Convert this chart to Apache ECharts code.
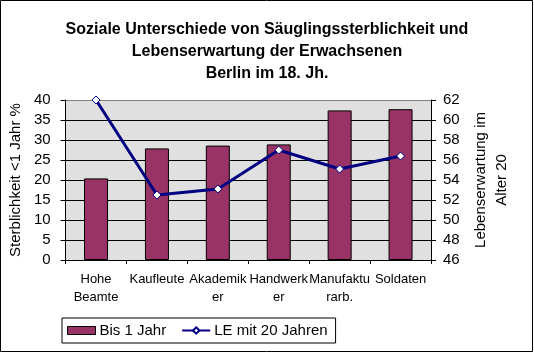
<!DOCTYPE html>
<html>
<head>
<meta charset="utf-8">
<script src="https://cdn.jsdelivr.net/npm/echarts@6/dist/echarts.min.js"></script>
<style>
html,body{margin:0;padding:0;background:#fff;}
#chart{width:534px;height:353px;}
</style>
</head>
<body>
<div id="chart"></div>
<script>
var categories = ["Hohe\nBeamte", "Kaufleute", "Akademik\ner", "Handwerk\ner", "Manufaktu\nrarb.", "Soldaten"];
var mortality = [20.4, 27.9, 28.6, 28.9, 37.4, 37.7];
var lifeExpectancy = [62.0, 52.5, 53.1, 57.0, 55.1, 56.4];
var seriesNames = ["Bis 1 Jahr", "LE mit 20 Jahren"];
var titleText = "Soziale Unterschiede von Säuglingssterblichkeit und\nLebenserwartung der Erwachsenen\nBerlin im 18. Jh.";
var leftAxisName = "Sterblichkeit <1 Jahr %";
var rightAxisName = "Lebenserwartung im\nAlter 20";

var FONT = "Liberation Sans, Arial, sans-serif";
var chart = echarts.init(document.getElementById('chart'), null, {renderer: 'canvas'});
chart.setOption({
  backgroundColor: '#ffffff',
  animation: false,
  textStyle: {fontFamily: FONT, color: '#000'},
  title: {
    text: titleText,
    left: 262, top: 14, textAlign: 'center',
    textStyle: {fontFamily: FONT, fontSize: 16, fontWeight: 'bold', color: '#000', lineHeight: 21.7}
  },
  graphic: [{
    type: 'rect', silent: true, z: 100,
    shape: {x: 0.5, y: 0.5, width: 532, height: 351},
    style: {fill: 'none', stroke: '#000', lineWidth: 1}
  }],
  legend: {
    left: 62, top: 318,
    padding: [5, 8, 5, 5],
    borderColor: '#000', borderWidth: 1,
    itemGap: 15,
    itemWidth: 28, itemHeight: 8,
    textStyle: {fontFamily: FONT, fontSize: 15, color: '#000', padding: [0, 0, 0, -1]},
    data: [
      {name: seriesNames[0], icon: 'rect', itemStyle: {borderColor: '#000', borderWidth: 1}},
      {name: seriesNames[1]}
    ]
  },
  grid: {
    left: 60, right: 103, top: 100, bottom: 93,
    show: true, backgroundColor: '#E0E0E0', borderWidth: 0
  },
  xAxis: {
    type: 'category',
    data: categories,
    axisLine: {lineStyle: {color: '#000', width: 1}},
    axisTick: {show: true, length: 4, lineStyle: {color: '#000'}},
    axisLabel: {interval: 0, margin: 11, fontFamily: FONT, fontSize: 13, color: '#000', lineHeight: 17.5}
  },
  yAxis: [{
    type: 'value', min: 0, max: 40, interval: 5,
    position: 'left',
    name: leftAxisName, nameLocation: 'middle', nameGap: 36, nameRotate: 90,
    nameTextStyle: {fontFamily: FONT, fontSize: 15, color: '#000'},
    axisLine: {show: true, lineStyle: {color: '#000'}},
    axisTick: {show: true, length: 5, lineStyle: {color: '#000'}},
    axisLabel: {margin: 15, fontFamily: FONT, fontSize: 15, color: '#000'},
    splitLine: {show: true, lineStyle: {color: ['#000','#000','#000','#000','#000','#000','#000','#000','#808080'], width: 1}}
  }, {
    type: 'value', min: 46, max: 62, interval: 2,
    position: 'right',
    name: rightAxisName, nameLocation: 'middle', nameGap: 37, nameRotate: 90,
    nameTextStyle: {fontFamily: FONT, fontSize: 15, color: '#000', lineHeight: 21, align: 'center'},
    axisLine: {show: true, lineStyle: {color: '#000'}},
    axisTick: {show: true, length: 5, lineStyle: {color: '#000'}},
    axisLabel: {margin: 12, fontFamily: FONT, fontSize: 15, color: '#000'},
    splitLine: {show: false}
  }],
  series: [{
    name: seriesNames[0],
    type: 'bar',
    yAxisIndex: 0,
    data: mortality,
    barWidth: 24,
    itemStyle: {color: '#993366', borderColor: '#000', borderWidth: 1}
  }, {
    name: seriesNames[1],
    type: 'line',
    yAxisIndex: 1,
    data: lifeExpectancy,
    symbol: 'diamond', symbolSize: 8, showAllSymbol: true,
    lineStyle: {color: '#000080', width: 3},
    itemStyle: {color: '#ffffff', borderColor: '#000080', borderWidth: 1},
    z: 5
  }]
});
</script>
</body>
</html>
